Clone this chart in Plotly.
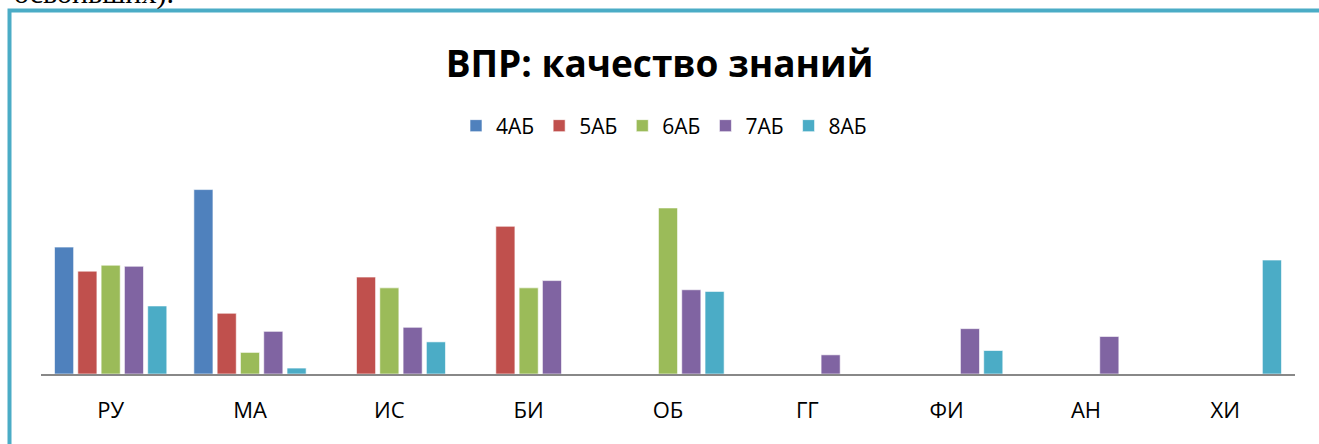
import plotly.graph_objects as go

subjects = ["РУ", "МА", "ИС", "БИ", "ОБ", "ГГ", "ФИ", "АН", "ХИ"]
classes = ["4АБ", "5АБ", "6АБ", "7АБ", "8АБ"]
colors = ["#4F81BD", "#C0504D", "#9BBB59", "#8064A2", "#4BACC6"]

# качество знаний, % (None = нет данных)
v4 = [47.0, 68.3, None, None, None, None, None, None, None]
v5 = [38.1, 22.5, 35.9, 54.7, None, None, None, None, None]
v6 = [40.3, 8.0, 31.9, 31.9, 61.5, None, None, None, None]
v7 = [39.9, 15.8, 17.3, 34.6, 31.2, 7.1, 16.8, 13.9, None]
v8 = [25.2, 2.2, 11.9, None, 30.6, None, 8.7, None, 42.2]
series = [v4, v5, v6, v7, v8]

fig = go.Figure()
for name, vals, c in zip(classes, series, colors):
    fig.add_trace(go.Bar(
        x=subjects, y=vals, name=name,
        marker=dict(color=c, line=dict(color="rgba(255,255,255,0.6)", width=1)),
    ))

font = "Open Sans, Noto Sans, sans-serif"
fig.update_layout(
    width=1319, height=444,
    margin=dict(l=41, r=24, t=170, b=70, autoexpand=False),
    paper_bgcolor="white", plot_bgcolor="white",
    barmode="group", bargap=0.164, bargroupgap=0.18,
    title=dict(text="<b>ВПР: качество знаний</b>", x=0.5, xanchor="center",
               xref="container", yref="container",
               y=1 - 64 / 444, yanchor="middle",
               font=dict(family=font, size=37, color="black")),
    legend=dict(orientation="h", x=664 / 1319, xanchor="center", xref="container",
                yref="container", y=1 - 126 / 444, yanchor="middle",
                font=dict(family=font, size=21, color="black"),
                itemwidth=30, traceorder="normal"),
    showlegend=True,
    xaxis=dict(showline=True, linecolor="#888888", linewidth=2, ticks="",
               showgrid=False, tickfont=dict(family=font, size=22, color="black"),
               ticklabelstandoff=16),
    yaxis=dict(visible=False, range=[0, 204 / 2.7], showgrid=False),
    shapes=[dict(type="rect", xref="paper", yref="paper",
                 x0=(9.5 - 41) / 1254, x1=1.2, y0=-1.0, y1=(374 - 10.5) / 204,
                 line=dict(color="#4BACC6", width=4), layer="above")],
    annotations=[dict(text="освоивших).", xref="paper", yref="paper",
                      x=(12 - 41) / 1254, xanchor="left",
                      y=(374 - 12) / 204, yanchor="bottom", showarrow=False,
                      font=dict(family="Liberation Serif", size=30, color="black"))],
)

fig.write_html("out.html", config={"displayModeBar": False},
               post_script="document.body.style.margin='0';")
